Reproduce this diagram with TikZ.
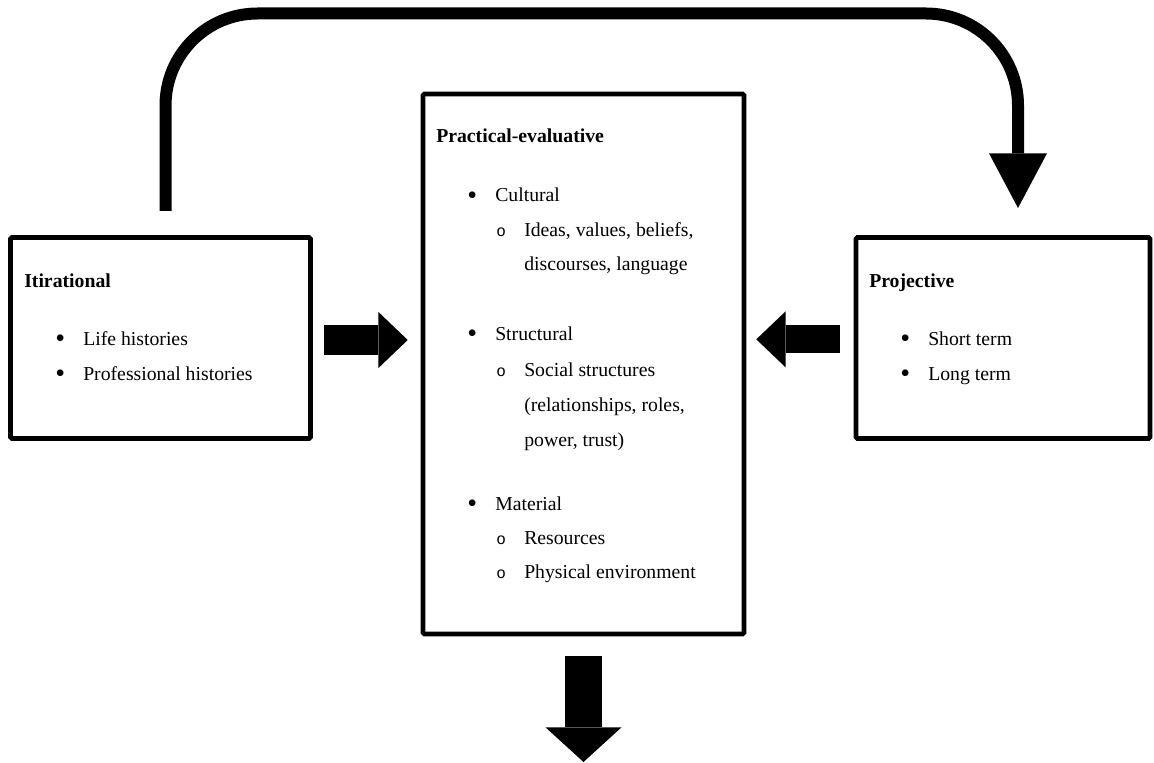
\documentclass[tikz,border=0pt]{standalone}
\usepackage{fontspec}
\setmainfont{Liberation Serif}
\newfontfamily\subfont{Liberation Mono}
\usetikzlibrary{arrows.meta}

\newcommand{\blt}{\makebox[21pt][l]{\raisebox{-1.6pt}{\fontsize{21}{21}\selectfont\textbullet}}}
\newcommand{\sblt}{\makebox[21pt][l]{\subfont\fontsize{12}{12}\selectfont o}}

\tikzset{
  box/.style = {draw, line width=3.4pt, rounded corners=1pt, inner sep=0pt},
  txt/.style = {anchor=base west, inner sep=0pt, font=\fontsize{14.8}{18}\selectfont},
  head/.style = {txt, font=\fontsize{14.8}{18}\selectfont\bfseries},
  blockarrow/.style = {line width=22.5pt,
    -{Triangle[width=42pt, length=22pt, line width=0pt]}},
  looparrow/.style = {line width=9pt, rounded corners=69pt,
    -{Triangle[width=43.5pt, length=41pt, line width=0pt]}}
}

\begin{document}
\begin{tikzpicture}[x=0.75pt, y=-0.75pt]
  \useasboundingbox (0,0) rectangle (1154,763);

  % the three boxes
  \node[box, minimum width=225pt, minimum height=150.75pt] (itir) at (160.5,338) {};
  \node[box, minimum width=240.75pt, minimum height=405pt] (prac) at (583.5,364) {};
  \node[box, minimum width=220.5pt, minimum height=150.75pt] (proj) at (1003,338) {};

  % Itirational
  \node[head] (itirhead) at (24,287) {Itirational};
  \node[txt] (life) at (55,345) {\blt Life histories};
  \node[txt] (prof) at (55,380) {\blt Professional histories};

  % Practical-evaluative
  \node[head] (prachead) at (436,143) {Practical-evaluative};
  \node[txt] (cult) at (467,202) {\blt Cultural};
  \node[txt] (cultA) at (496,237) {\sblt Ideas, values, beliefs,};
  \node[txt] (cultB) at (524,271) {discourses, language};
  \node[txt] (struc) at (467,340) {\blt Structural};
  \node[txt] (strucA) at (496,376) {\sblt Social structures};
  \node[txt] (strucB) at (524,411) {(relationships, roles,};
  \node[txt] (strucC) at (524,446) {power, trust)};
  \node[txt] (mat) at (467,510) {\blt Material};
  \node[txt] (matA) at (496,544) {\sblt Resources};
  \node[txt] (matB) at (496,578) {\sblt Physical environment};

  % Projective
  \node[head] (projhead) at (869,287) {Projective};
  \node[txt] (short) at (900,345) {\blt Short term};
  \node[txt] (long) at (900,380) {\blt Long term};

  % connectors
  \coordinate (loopstart) at (165.5,211);
  \coordinate (looptop) at (590,13.5);
  \coordinate (loopend) at (1018,208);
  \coordinate (outend) at (583.5,762);

  \draw[looparrow] (loopstart) |- (looptop) -| (loopend);
  \draw[blockarrow, shorten <=8.6pt, shorten >=9.75pt]
    ([yshift=-1.5pt]itir.east) -- ([yshift=-1.5pt]itir.east -| prac.west);
  \draw[blockarrow, line width=21pt, shorten <=10.5pt, shorten >=7.5pt]
    ([yshift=-1pt]proj.west) -- ([yshift=-1pt]proj.west -| prac.east);
  \draw[line width=27.75pt, -{Triangle[width=57pt, length=26pt, line width=0pt]},
    shorten <=15pt] (prac.south) -- (outend);
\end{tikzpicture}
\end{document}
